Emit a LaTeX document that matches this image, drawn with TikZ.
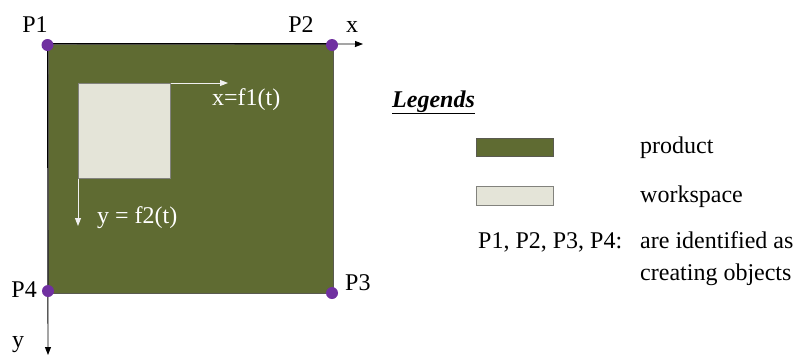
\documentclass[tikz,border=0pt]{standalone}
\usepackage{fontspec}
\setmainfont{Liberation Serif}
\usetikzlibrary{arrows.meta}
\definecolor{prodgreen}{RGB}{95,107,50}
\definecolor{prodedge}{RGB}{90,90,80}
\definecolor{wsfill}{RGB}{228,228,216}
\definecolor{wsedge}{RGB}{130,130,125}
\definecolor{dotpurple}{RGB}{112,48,160}
\tikzset{
  lbl/.style={inner sep=0pt, font=\fontsize{24}{28}\selectfont},
  wlbl/.style={lbl, text=white},
  dotnode/.style={circle, fill=dotpurple, inner sep=0pt, minimum size=12pt},
  axis/.style={black, line width=0.9pt, -{Triangle[length=8pt,width=6pt]}},
  waxis/.style={white!88!gray, line width=0.9pt, -{Triangle[length=8pt,width=6pt]}},
  prodbox/.style={fill=prodgreen, draw=prodedge, line width=0.8pt},
  wsbox/.style={fill=wsfill, draw=wsedge, line width=0.8pt}
}
\begin{document}
\begin{tikzpicture}[x=1pt,y=-1pt]
\useasboundingbox (0,0) rectangle (796,354);
% product
\node[prodbox, anchor=north west, minimum width=285pt, minimum height=249pt, inner sep=0pt] (prod) at (47.5,43.5) {};
\draw[black, line width=0.9pt] (prod.north west) -- (prod.north east);
% workspace
\node[wsbox, anchor=north west, minimum width=92pt, minimum height=95pt, inner sep=0pt] (ws) at (78,83) {};
\coordinate (wsx) at (228,83);
\coordinate (wsy) at (78,226);
\draw[waxis] (ws.north east) -- (wsx);
\draw[waxis] (ws.south west) -- (wsy);
% axes
\coordinate (xend) at (363,44);
\coordinate (yend) at (48,355);
\draw[axis] (prod.north west) -- (xend);
\draw[axis] (prod.north west) -- (yend);
% dots
\node[dotnode] (p1) at (47.5,45) {};
\node[dotnode] (p2) at (332,45) {};
\node[dotnode] (p3) at (332,293) {};
\node[dotnode] (p4) at (48,291) {};
% labels
\node[lbl, anchor=base] (l1) at (35,32) {P1};
\node[lbl, anchor=base] (l2) at (301,32) {P2};
\node[lbl, anchor=base] (lx) at (352,32) {x};
\node[lbl, anchor=base east] (l4) at (37,297) {P4};
\node[lbl, anchor=base west] (l3) at (345,290) {P3};
\node[lbl, anchor=base west] (ly) at (12,347) {y};
\node[wlbl, anchor=base west] (fx) at (212,105) {x=f1(t)};
\node[wlbl, anchor=base west] (fy) at (97,223) {y = f2(t)};
% legend
\node[lbl, anchor=base west] (leg) at (392,107) {\textbf{\textit{\underline{Legends}}}};
\node[prodbox, anchor=north west, minimum width=77pt, minimum height=18pt, inner sep=0pt] (lgp) at (476,138) {};
\node[wsbox, anchor=north west, minimum width=77pt, minimum height=19pt, inner sep=0pt] (lgw) at (476,186) {};
\node[lbl, anchor=base west] (tp) at (640,153) {product};
\node[lbl, anchor=base west] (tw) at (640,202) {workspace};
\node[lbl, anchor=base west] (tpp) at (478,248) {P1, P2, P3, P4:};
\node[lbl, anchor=base west] (ta) at (640,248) {are identified as};
\node[lbl, anchor=base west] (tc) at (640,280) {creating objects};
\end{tikzpicture}
\end{document}
